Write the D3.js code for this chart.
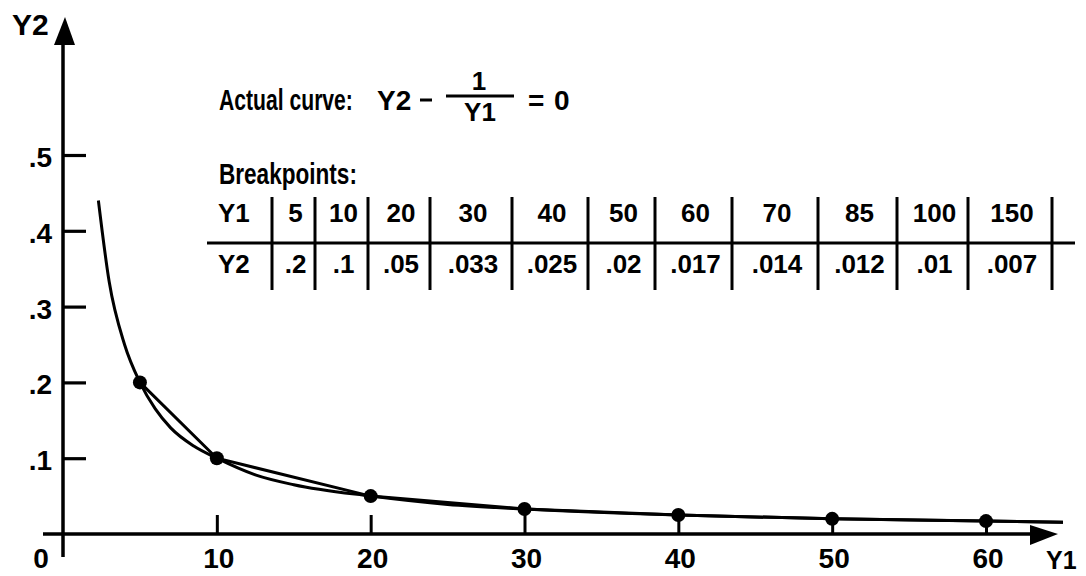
<!DOCTYPE html>
<html>
<head>
<meta charset="utf-8">
<script src="https://cdn.jsdelivr.net/npm/d3@7"></script>
<style>
  html, body { margin: 0; padding: 0; background: #fff; }
  svg { display: block; }
  text { font-family: "Liberation Sans", Arial, sans-serif; fill: #000; }
</style>
</head>
<body>
<svg id="chart" width="1086" height="576"></svg>
<script>
// Breakpoints of the piecewise-linear approximation
const breakY1 = [5, 10, 20, 30, 40, 50, 60, 70, 85, 100, 150];
const breakY2 = [0.2, 0.1, 0.05, 0.033, 0.025, 0.02, 0.017, 0.014, 0.012, 0.01, 0.007];

// Points along the actual curve Y2 = 1/Y1
const actualY1 = [2.3, 3, 4, 5, 6, 7, 8.5, 10, 12.5, 15, 20, 25, 30, 40, 50, 60, 70];
const actualY2 = [0.44, 0.333, 0.25, 0.2, 0.165, 0.14, 0.116, 0.1, 0.078, 0.065, 0.05, 0.039, 0.033, 0.025, 0.02, 0.017, 0.014];

// Axis ticks
const xTicks = [10, 20, 30, 40, 50, 60];
const yTicks = [0.1, 0.2, 0.3, 0.4, 0.5];

// Breakpoints marked on the plot
const plottedY1 = [5, 10, 20, 30, 40, 50, 60];

// Table column edges (left edge of each column, plus the final right edge)
const tableEdges = [218, 272, 315, 368, 430, 512, 588, 655, 732, 818, 897, 968, 1052];

const svg = d3.select("#chart");
const x = d3.scaleLinear().domain([0, 60]).range([63, 986]);
const y = d3.scaleLinear().domain([0, 0.5]).range([534, 155]);
const fmt = v => String(v).replace(/^0(?=\.)/, "");
const INK = "#000";

// condensed label: draw at full size, then squeeze horizontally to a given width
function condensed(str, x0, y0, size, width) {
  const t = svg.append("text").attr("font-size", size).attr("font-weight", "bold").text(str);
  const k = width / t.node().getComputedTextLength();
  t.attr("transform", `translate(${x0},${y0}) scale(${k},1)`);
  return t;
}

// ---- axes ----
const yAxis = d3.axisRight(y).tickValues(yTicks).tickSize(23).tickFormat("");
const gy = svg.append("g").attr("transform", `translate(${x(0)},0)`).call(yAxis);
gy.select(".domain").remove();
gy.selectAll(".tick line").attr("stroke", INK).attr("stroke-width", 3.2);

const xAxis = d3.axisTop(x).tickValues(xTicks).tickSize(19).tickFormat("");
const gx = svg.append("g").attr("transform", `translate(0,${y(0)})`).call(xAxis);
gx.select(".domain").remove();
gx.selectAll(".tick line").attr("stroke", INK).attr("stroke-width", 3);

// axis lines
svg.append("line").attr("x1", x(0)).attr("x2", x(0)).attr("y1", 40).attr("y2", 557)
  .attr("stroke", INK).attr("stroke-width", 3.5);
svg.append("line").attr("x1", 43).attr("x2", 1040).attr("y1", y(0)).attr("y2", y(0))
  .attr("stroke", INK).attr("stroke-width", 3.5);
// arrowheads
svg.append("path").attr("d", `M${x(0) + 2},17 L${x(0) - 9},45 L${x(0) + 12},45 Z`).attr("fill", INK);
svg.append("path").attr("d", `M1058,${y(0)} L1030,${y(0) - 9} L1030,${y(0) + 11} Z`).attr("fill", INK);

// tick labels
svg.append("g").selectAll("text").data(yTicks).join("text")
  .attr("x", 52).attr("y", d => y(d) + 12)
  .attr("text-anchor", "end").attr("font-size", 28).attr("font-weight", "bold")
  .text(fmt);
svg.append("g").selectAll("text").data(xTicks).join("text")
  .attr("x", d => x(d) + 2).attr("y", 568)
  .attr("text-anchor", "middle").attr("font-size", 28).attr("font-weight", "bold")
  .text(d => d);
svg.append("text").attr("x", 41).attr("y", 568).attr("text-anchor", "middle")
  .attr("font-size", 28).attr("font-weight", "bold").text("0");
svg.append("text").attr("x", 12).attr("y", 35).attr("font-size", 30).attr("font-weight", "bold").text("Y2");
svg.append("text").attr("x", 1046).attr("y", 569).attr("font-size", 25).attr("font-weight", "bold").text("Y1");

// ---- curves ----
svg.append("clipPath").attr("id", "plotClip")
  .append("rect").attr("x", 0).attr("y", 0).attr("width", x(65)).attr("height", 576);

const actual = actualY1.map((v, i) => [v, actualY2[i]]);
const approx = breakY1.map((v, i) => [v, breakY2[i]]);

svg.append("path").datum(actual)
  .attr("clip-path", "url(#plotClip)")
  .attr("d", d3.line().x(d => x(d[0])).y(d => y(d[1])).curve(d3.curveMonotoneX))
  .attr("fill", "none").attr("stroke", INK).attr("stroke-width", 3);

svg.append("path").datum(approx)
  .attr("clip-path", "url(#plotClip)")
  .attr("d", d3.line().x(d => x(d[0])).y(d => y(d[1])))
  .attr("fill", "none").attr("stroke", INK).attr("stroke-width", 3);

svg.append("g").selectAll("circle").data(plottedY1).join("circle")
  .attr("cx", d => x(d)).attr("cy", d => y(breakY2[breakY1.indexOf(d)]))
  .attr("r", 7).attr("fill", INK);

// ---- annotation ----
condensed("Actual curve:", 219, 110, 30, 134);
svg.append("text").attr("x", 377).attr("y", 110).attr("font-size", 28).attr("font-weight", "bold").text("Y2");
svg.append("line").attr("x1", 420).attr("x2", 432).attr("y1", 100).attr("y2", 100)
  .attr("stroke", INK).attr("stroke-width", 3);
svg.append("line").attr("x1", 446).attr("x2", 514).attr("y1", 96).attr("y2", 96)
  .attr("stroke", INK).attr("stroke-width", 3);
svg.append("text").attr("x", 479).attr("y", 90).attr("text-anchor", "middle")
  .attr("font-size", 26).attr("font-weight", "bold").text("1");
svg.append("text").attr("x", 480).attr("y", 121).attr("text-anchor", "middle")
  .attr("font-size", 26).attr("font-weight", "bold").text("Y1");
svg.append("text").attr("x", 528).attr("y", 110).attr("font-size", 28).attr("font-weight", "bold").text("=");
svg.append("text").attr("x", 554).attr("y", 110).attr("font-size", 28).attr("font-weight", "bold").text("0");

condensed("Breakpoints:", 219, 184, 30, 138);

// ---- breakpoint table ----
const rows = [["Y1", ...breakY1.map(String)], ["Y2", ...breakY2.map(fmt)]];
const rowBase = [222, 273];
const table = svg.append("g");
rows.forEach((cells, r) => {
  table.append("g").selectAll("text").data(cells).join("text")
    .attr("x", (d, i) => i === 0 ? tableEdges[0] : (tableEdges[i] + tableEdges[i + 1]) / 2 + 2)
    .attr("y", rowBase[r])
    .attr("text-anchor", (d, i) => i === 0 ? "start" : "middle")
    .attr("font-size", 26).attr("font-weight", "bold")
    .text(d => d);
});
table.append("line").attr("x1", 207).attr("x2", 1075).attr("y1", 243).attr("y2", 243)
  .attr("stroke", INK).attr("stroke-width", 3);
table.append("g").selectAll("line").data(tableEdges.slice(1)).join("line")
  .attr("x1", d => d).attr("x2", d => d).attr("y1", 197).attr("y2", 290)
  .attr("stroke", INK).attr("stroke-width", 3);
</script>
</body>
</html>
